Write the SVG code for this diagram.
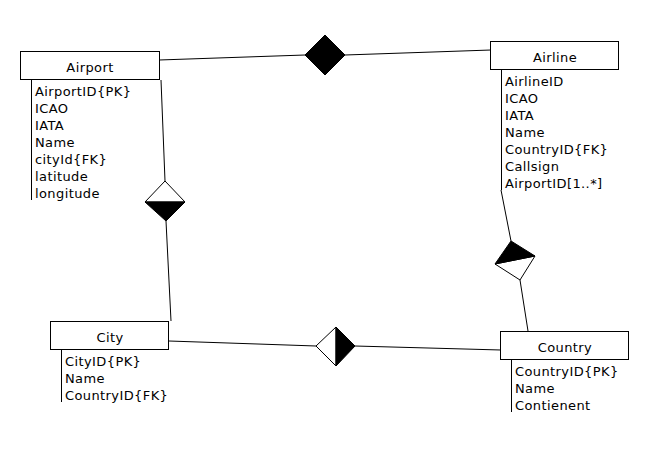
<svg xmlns="http://www.w3.org/2000/svg" width="650" height="450" viewBox="0 0 650 450">
<style>
.box{fill:#fff;stroke:#000;stroke-width:1}
.ln{fill:none;stroke:#000;stroke-width:1}
.t{font-family:"DejaVu Sans",sans-serif;font-size:13px;fill:#000;letter-spacing:0.4px}
.c{text-anchor:middle}
</style>
<rect width="650" height="450" fill="#fff"/>
<g id="connectors">
<path class="ln" d="M159,60 L305,55 M345,55 L491,50"/>
<polygon points="305,55 325,35 345,55 325,75" fill="#000" stroke="#000"/>
<path class="ln" d="M161,80 L165,181 M166,221 L171,321"/>
<polygon points="165,181 185,202 145,202" fill="#fff" stroke="#000"/>
<polygon points="145,202 185,202 166,221" fill="#000" stroke="#000"/>
<path class="ln" d="M169,341 L316,346 M355,346 L501,350"/>
<polygon points="336,327 316,346 336,366" fill="#fff" stroke="#000"/>
<polygon points="336,327 355,346 336,366" fill="#000" stroke="#000"/>
<path class="ln" d="M501,190 L511,241 M520,280 L528,331"/>
<polygon points="495,264 535,256 520,280" fill="#fff" stroke="#000"/>
<polygon points="511,241 535,256 495,264" fill="#000" stroke="#000"/>
</g>
<g id="airport">
<rect class="box" x="20.5" y="51.5" width="139" height="28"/>
<text class="t c" x="90" y="72">Airport</text>
<path class="ln" d="M31.5,80 V200"/>
<text class="t" x="35" y="96">AirportID{PK}</text>
<text class="t" x="35" y="113">ICAO</text>
<text class="t" x="35" y="130">IATA</text>
<text class="t" x="35" y="147">Name</text>
<text class="t" x="35" y="164">cityId{FK}</text>
<text class="t" x="35" y="181">latitude</text>
<text class="t" x="35" y="198">longitude</text>
</g>
<g id="airline">
<rect class="box" x="490.5" y="41.5" width="128" height="28"/>
<text class="t c" x="555" y="62">Airline</text>
<path class="ln" d="M501.5,70 V190"/>
<text class="t" x="505" y="86">AirlineID</text>
<text class="t" x="505" y="103">ICAO</text>
<text class="t" x="505" y="120">IATA</text>
<text class="t" x="505" y="137">Name</text>
<text class="t" x="505" y="154">CountryID{FK}</text>
<text class="t" x="505" y="171">Callsign</text>
<text class="t" x="505" y="188">AirportID[1..*]</text>
</g>
<g id="city">
<rect class="box" x="50.5" y="321.5" width="118" height="28"/>
<text class="t c" x="110" y="342">City</text>
<path class="ln" d="M61.5,350 V402"/>
<text class="t" x="65" y="366">CityID{PK}</text>
<text class="t" x="65" y="383">Name</text>
<text class="t" x="65" y="400">CountryID{FK}</text>
</g>
<g id="country">
<rect class="box" x="500.5" y="331.5" width="128" height="28"/>
<text class="t c" x="565" y="352">Country</text>
<path class="ln" d="M511.5,360 V412"/>
<text class="t" x="515" y="376">CountryID{PK}</text>
<text class="t" x="515" y="393">Name</text>
<text class="t" x="515" y="410">Contienent</text>
</g>
</svg>
